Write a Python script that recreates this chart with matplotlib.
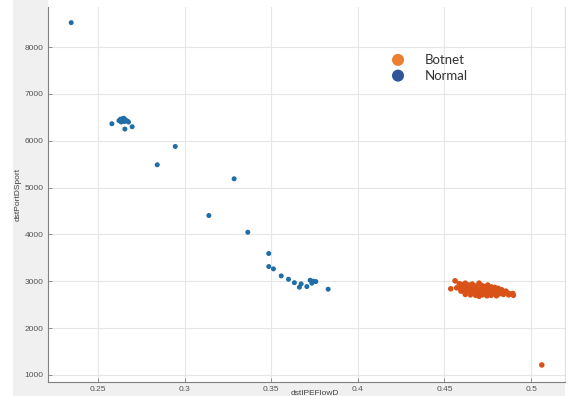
import matplotlib
matplotlib.use("Agg")
import matplotlib.pyplot as plt
from matplotlib.patches import Rectangle

# Normal traffic (dstIPEFlowD, dstPortDSport)
normal_x = [0.2344, 0.2579, 0.2620, 0.2628, 0.2635, 0.2640, 0.2645, 0.2650,
            0.2655, 0.2660, 0.2648, 0.2632, 0.2668, 0.2675, 0.2654, 0.2696,
            0.2841, 0.2945, 0.3139, 0.3285, 0.3364, 0.3485, 0.3485, 0.3512,
            0.3557, 0.3599, 0.3633, 0.3662, 0.3672, 0.3705, 0.3724, 0.3734,
            0.3743, 0.3757, 0.3828]
normal_y = [8521, 6363, 6430, 6460, 6420, 6470, 6440, 6410,
            6450, 6430, 6480, 6400, 6420, 6400, 6250, 6299,
            5487, 5878, 4404, 5188, 4047, 3593, 3314, 3265,
            3115, 3043, 2970, 2874, 2945, 2887, 3022, 2959,
            3002, 2994, 2831]

# Botnet traffic
botnet_x = [0.4561, 0.4585, 0.4600, 0.4620, 0.4640, 0.4660, 0.4680, 0.4700,
            0.4715, 0.4730, 0.4750, 0.4770, 0.4790, 0.4810, 0.4830,
            0.4536, 0.4570, 0.4590, 0.4605, 0.4625, 0.4645, 0.4665, 0.4685,
            0.4705, 0.4725, 0.4745, 0.4765, 0.4785, 0.4805, 0.4825, 0.4845,
            0.4865, 0.4880,
            0.4595, 0.4615, 0.4635, 0.4655, 0.4675, 0.4695, 0.4715, 0.4735,
            0.4755, 0.4775, 0.4795, 0.4815, 0.4840,
            0.4620, 0.4650, 0.4680, 0.4700, 0.4720, 0.4745, 0.4770, 0.4800,
            0.4610, 0.4630, 0.4670, 0.4690, 0.4710, 0.4740, 0.4760, 0.4780,
            0.4800, 0.4820, 0.4855, 0.4870,
            0.4898, 0.4895, 0.5062]
botnet_y = [3010, 2950, 2930, 2960, 2920, 2940, 2900, 2960,
            2910, 2890, 2920, 2880, 2870, 2850, 2820,
            2840, 2860, 2850, 2870, 2840, 2860, 2830, 2850,
            2820, 2840, 2810, 2830, 2800, 2790, 2780, 2760,
            2750, 2730,
            2790, 2780, 2800, 2770, 2790, 2760, 2780, 2750,
            2770, 2740, 2750, 2730, 2720,
            2720, 2710, 2700, 2680, 2710, 2690, 2700, 2690,
            2820, 2890, 2870, 2810, 2860, 2860, 2720, 2850,
            2740, 2800, 2790, 2710,
            2700, 2740, 1214]

x_ticks = [0.25, 0.3, 0.35, 0.4, 0.45, 0.5]
x_tick_labels = ["0.25", "0.3", "0.35", "0.4", "0.45", "0.5"]
y_ticks = [1000, 2000, 3000, 4000, 5000, 6000, 7000, 8000]

W, H = 569, 396
fig = plt.figure(figsize=(W / 100, H / 100), dpi=100, facecolor="white")

# grey MATLAB-style figure background around the axes
fig.patches.append(Rectangle((13 / W, 0), 35 / W, 1, transform=fig.transFigure,
                             facecolor="#f0f0f0", edgecolor="none", zorder=-5))
fig.patches.append(Rectangle((13 / W, 0), 552 / W, 14 / H, transform=fig.transFigure,
                             facecolor="#f0f0f0", edgecolor="none", zorder=-5))

ax = fig.add_axes([48 / W, 14 / H, 517 / W, 375 / H])
ax.set_facecolor("white")

ax.scatter(normal_x, normal_y, s=13, color="#1f6ea8", edgecolors="none", zorder=3)
ax.scatter(botnet_x, botnet_y, s=16, color="#d95319", edgecolors="none", zorder=3)

ax.set_xlim(0.221, 0.5196)
ax.set_ylim(850, 8855)
ax.set_xticks(x_ticks)
ax.set_xticklabels(x_tick_labels)
ax.set_yticks(y_ticks)

ax.grid(True, color="#e6e6e6", linewidth=0.8)
ax.set_axisbelow(True)
for side in ("left", "bottom"):
    ax.spines[side].set_color("#808080")
    ax.spines[side].set_linewidth(0.8)
ax.spines["top"].set_visible(False)
ax.spines["right"].set_color("#e0e0e0")
ax.tick_params(direction="in", length=3, width=0.6, color="#808080",
               labelsize=6, labelcolor="#555555", pad=3)
for lab in ax.get_xticklabels() + ax.get_yticklabels():
    lab.set_family("Liberation Sans")

ax.set_ylabel("dstPortDSport", fontsize=6, color="#444444",
              family="Liberation Sans", labelpad=2)
fig.text(315 / W, (H - 390) / H, "dstIPEFlowD", fontsize=6, color="#444444",
         family="Liberation Sans", ha="center", va="top")

# legend overlay
legend_items = [("Botnet", "#ed7d31", 0.859), ("Normal", "#2f5597", 0.817)]
for label, col, yy in legend_items:
    ax.scatter([0.677], [yy], s=75, color=col, edgecolors="none",
               transform=ax.transAxes, zorder=5, clip_on=False)
    ax.text(0.729, yy, label, transform=ax.transAxes, fontsize=9.5,
            family="Lato", color="#333333", va="center", ha="left")

fig.savefig("out.png", dpi=100, facecolor=fig.get_facecolor())
